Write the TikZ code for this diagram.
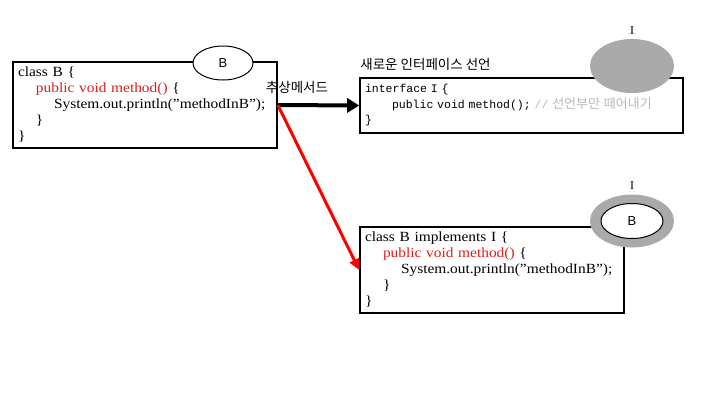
\documentclass[tikz,border=0pt]{standalone}
\usepackage{fontspec}
\setmainfont{Liberation Serif}
\setsansfont{Liberation Sans}
\setmonofont{Liberation Mono}
\newfontfamily\kr{Noto Sans CJK KR}
\newfontfamily\codefont[FakeStretch=1.1]{Liberation Serif}
\usetikzlibrary{arrows.meta,positioning,calc,shapes.geometric}
\definecolor{kwred}{RGB}{220,30,30}
\definecolor{cmtgray}{RGB}{185,185,185}
\definecolor{ifgray}{RGB}{170,170,170}

\begin{document}
\begin{tikzpicture}[x=1pt, y=-1pt,
  codebox/.style={draw, line width=1.6pt, minimum width=264pt, minimum height=86pt,
    inner xsep=5pt, inner ysep=0pt, align=left, text width=254pt,
    font=\codefont\fontsize{14}{16}\selectfont},
  tag/.style={draw, ellipse, line width=1pt, fill=white, minimum width=60pt, minimum height=34pt,
    inner sep=0pt, font=\sffamily\fontsize{13}{13}\selectfont},
  lbl/.style={font=\kr\fontsize{13.5}{15}\selectfont, inner sep=1pt},
  arr/.style={-{Triangle[length=12pt,width=14pt]}, line width=4pt},
  redarr/.style={-{Triangle[length=11pt,width=10pt]}, line width=3pt, red}]
\useasboundingbox (0,0) rectangle (720,405);

% original class
\node[codebox] (clsB) at (145,105) {class B \{\\
\hspace*{18pt}\textcolor{kwred}{public void method()} \{\\
\hspace*{36pt}System.out.println(”methodInB”);\\
\hspace*{18pt}\}\\
\}};
\node[tag] (tagB) at (223,63) {B};

% new interface
\node[codebox, minimum width=323pt, text width=313pt, minimum height=55pt,
  font=\ttfamily\fontsize{11.5}{15.5}\selectfont] (iface) at (521.5,105.5) {interface I \{\\
\hspace*{27pt}public void method(); \textcolor{cmtgray}{// {\kr\fontsize{13}{15.5}\selectfont 선언부만 떼어내기}}\\
\}};
\node[lbl, anchor=south west] (ifTitle) at ($(iface.north west)+(0,-5)$) {새로운 인터페이스 선언};
\node[ellipse, fill=ifgray, minimum width=84pt, minimum height=54pt] (tagI) at (632,66) {};
\node[font=\fontsize{12}{12}\selectfont, inner sep=0pt] (tagIlbl) at (632,31) {I};

% implementing class
\node[codebox] (impl) at (492,270) {class B implements I \{\\
\hspace*{18pt}\textcolor{kwred}{public void method()} \{\\
\hspace*{36pt}System.out.println(”methodInB”);\\
\hspace*{18pt}\}\\
\}};
\node[ellipse, fill=ifgray, minimum width=84pt, minimum height=53pt] (ringI) at (632,221) {};
\node[tag, minimum width=62pt, minimum height=35pt] (ringB) at (632,221) {B};
\node[font=\fontsize{12}{12}\selectfont, inner sep=0pt] (ringIlbl) at (632,186) {I};

% arrows
\node[lbl] (absLbl) at (297,87) {추상메서드};
\draw[arr] (clsB.east) -- (iface.west);
\draw[redarr] (clsB.east) -- (impl.west);
\end{tikzpicture}
\end{document}
